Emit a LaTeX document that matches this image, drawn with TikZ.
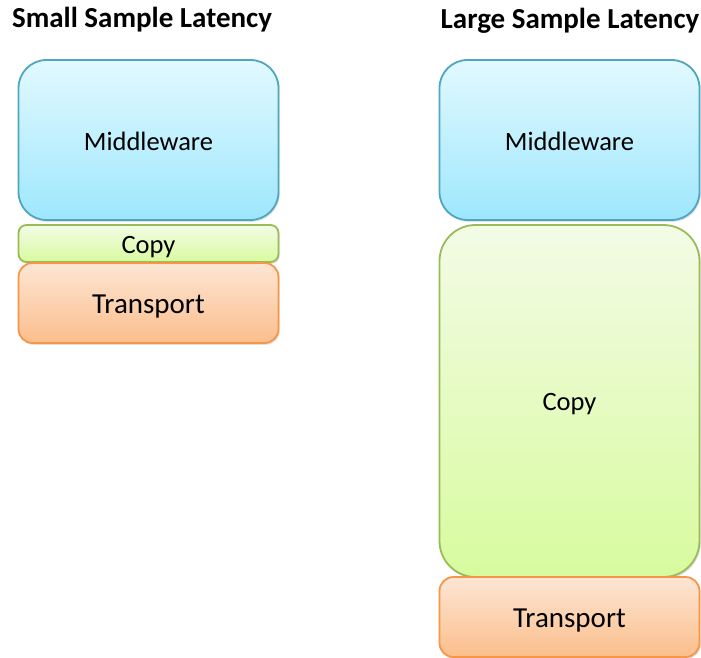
\documentclass[tikz,border=0pt]{standalone}
\usepackage{fontspec}
\setmainfont{Carlito}
\usetikzlibrary{shadows}
\definecolor{mwtop}{HTML}{E2F9FF}
\definecolor{mwbot}{HTML}{9EE7FD}
\definecolor{mwline}{HTML}{4EA6C0}
\definecolor{cptop}{HTML}{F3FBE6}
\definecolor{cpbot}{HTML}{D8FB9E}
\definecolor{cpline}{HTML}{9BBB59}
\definecolor{trtop}{HTML}{FDE6D4}
\definecolor{trbot}{HTML}{FBBE8C}
\definecolor{trline}{HTML}{F79646}
\tikzset{
  layer/.style={rectangle, line width=1.8pt, text=black, minimum width=260pt, inner sep=0pt,
    text depth=0pt,
    drop shadow={shadow xshift=1.2pt, shadow yshift=-1.8pt, opacity=0.25}},
  mw/.style={layer, draw=mwline, top color=mwtop, bottom color=mwbot, rounded corners=28pt,
    minimum height=160pt, text height=21.5pt, font=\fontsize{26.5}{30}\selectfont},
  cp/.style={layer, draw=cpline, top color=cptop, bottom color=cpbot, text height=19pt,
    font=\fontsize{26.5}{30}\selectfont},
  tr/.style={layer, draw=trline, top color=trtop, bottom color=trbot, rounded corners=14pt,
    minimum height=80pt, text height=21pt, font=\fontsize{29}{33}\selectfont},
  title/.style={font=\bfseries\fontsize{29}{33}\selectfont, text=black, inner sep=0pt}
}
\begin{document}
\begin{tikzpicture}[x=1pt,y=-1pt]
\useasboundingbox (0,0) rectangle (701,658);
\node[title] (t1) at (142,20) {Small Sample Latency};
\node[title] (t2) at (570,21) {Large Sample Latency};
\node[mw] (m1) at (148.5,140) {Middleware};
\node[cp, rounded corners=8pt, minimum height=37pt] (c1) at (148.5,243.5) {Copy};
\node[tr] (r1) at (148.5,303) {Transport};
\node[mw] (m2) at (569.5,140) {Middleware};
\node[cp, rounded corners=36pt, minimum height=352pt] (c2) at (569.5,401) {Copy};
\node[tr] (r2) at (569.5,617) {Transport};
\end{tikzpicture}
\end{document}
